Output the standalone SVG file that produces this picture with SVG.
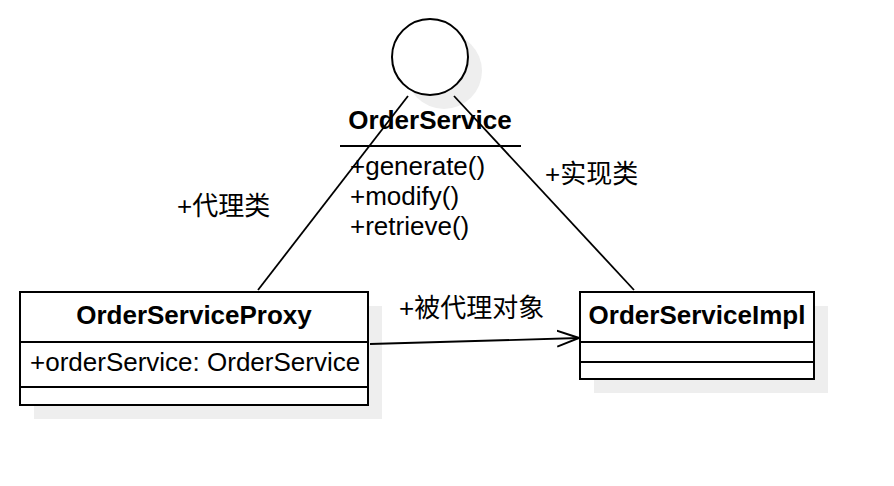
<svg xmlns="http://www.w3.org/2000/svg" width="894" height="486" viewBox="0 0 894 486">
<defs>
<style>
.t{font-family:"Liberation Sans","Noto Sans CJK SC",Arial,sans-serif;font-size:26px;fill:#000}
.b{font-weight:bold}
.box{fill:#fff;stroke:#000;stroke-width:2}
.sh{fill:#eeeeee;stroke:none}
.ln{stroke:#000;stroke-width:2;fill:none}
.c{stroke:#000;stroke-width:1.8;fill:none}
</style>
<marker id="open" markerWidth="24" markerHeight="20" refX="22" refY="10" orient="auto" markerUnits="userSpaceOnUse">
<path d="M0,2 L22,10 L0,18" fill="none" stroke="#000" stroke-width="2"/>
</marker>
</defs>
<rect width="894" height="486" fill="#fff"/>
<g id="OrderService">
<circle class="sh" cx="444" cy="71" r="38"/>
<circle class="box" cx="430" cy="57" r="38"/>
<text class="t b" x="430" y="129" text-anchor="middle">OrderService</text>
<line class="ln" x1="340" y1="146" x2="521" y2="146"/>
<text class="t" x="350" y="175">+generate()</text>
<text class="t" x="350" y="205">+modify()</text>
<text class="t" x="350" y="235">+retrieve()</text>
</g>
<g id="OrderServiceProxy">
<rect class="sh" x="34" y="306" width="348" height="113"/>
<rect class="box" x="20" y="292" width="348" height="113"/>
<line class="ln" x1="20" y1="342" x2="368" y2="342"/>
<line class="ln" x1="20" y1="387" x2="368" y2="387"/>
<text class="t b" x="194" y="324" text-anchor="middle">OrderServiceProxy</text>
<text class="t" x="30" y="371">+orderService: OrderService</text>
</g>
<g id="OrderServiceImpl">
<rect class="sh" x="594" y="306" width="234" height="87"/>
<rect class="box" x="580" y="292" width="234" height="87"/>
<line class="ln" x1="580" y1="342" x2="814" y2="342"/>
<line class="ln" x1="580" y1="362" x2="814" y2="362"/>
<text class="t b" x="697" y="324" text-anchor="middle">OrderServiceImpl</text>
</g>
<g id="connectors">
<line class="c" x1="408" y1="96" x2="258" y2="290"/>
<line class="c" x1="454" y1="96" x2="634" y2="290"/>
<line class="c" x1="370" y1="344" x2="579" y2="338" marker-end="url(#open)"/>
<text class="t" x="177" y="215">+代理类</text>
<text class="t" x="545" y="183">+实现类</text>
<text class="t" x="399" y="317">+被代理对象</text>
</g>
</svg>
